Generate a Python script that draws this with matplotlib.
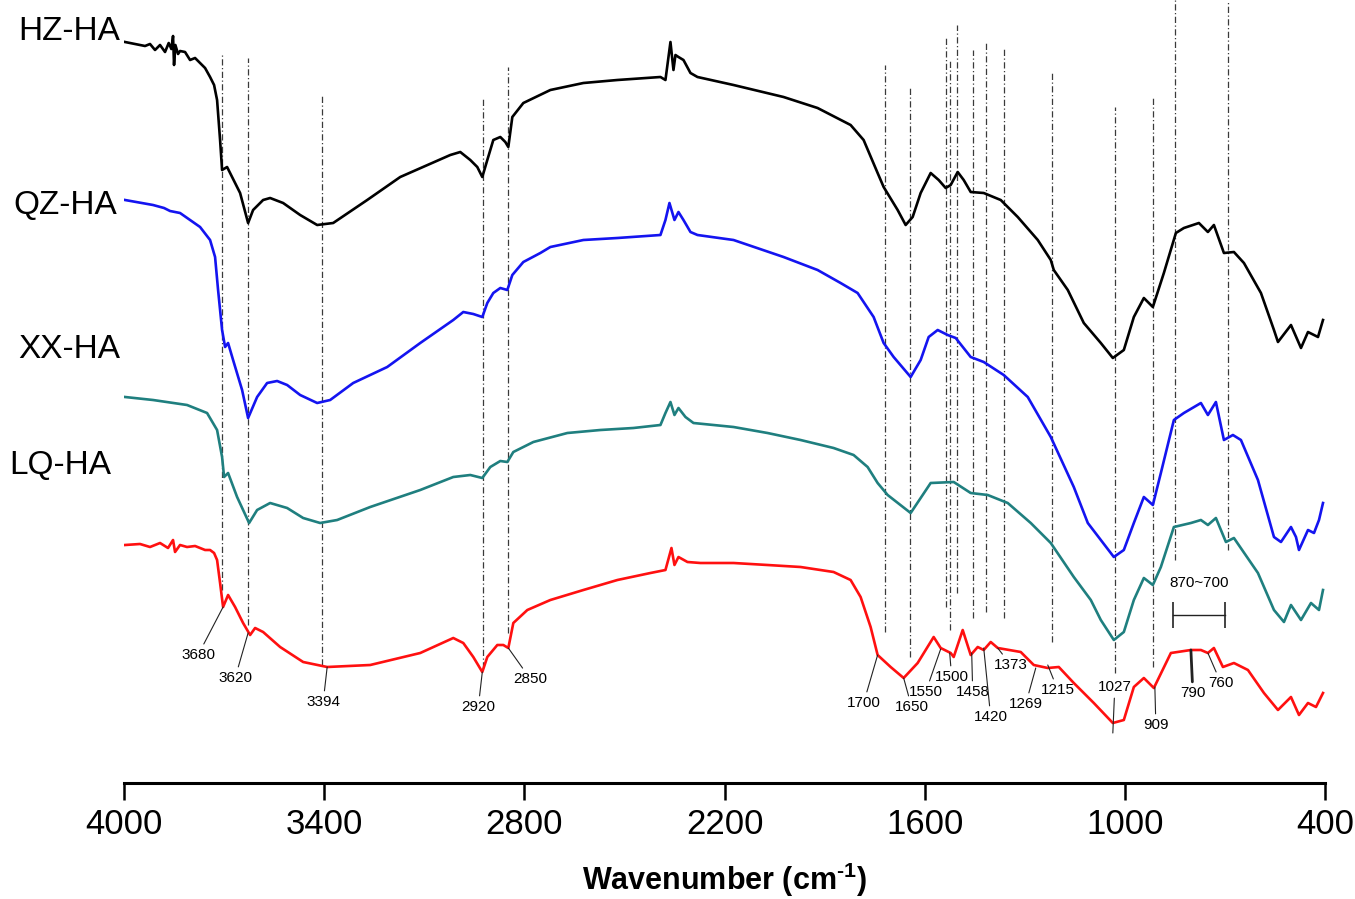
import numpy as np
import matplotlib
matplotlib.use("Agg")
import matplotlib.pyplot as plt

plt.rcParams['font.family'] = ['Liberation Sans', 'DejaVu Sans']
plt.rcParams['mathtext.fontset'] = 'custom'
plt.rcParams['mathtext.rm'] = 'Liberation Sans'
plt.rcParams['mathtext.bf'] = 'Liberation Sans:bold'

# FTIR spectra, (wavenumber, stacked intensity a.u.)
hz_ha = [(3997, 741), (3967, 739), (3937, 737), (3922, 739), (3907, 733), (3892, 738),
         (3877, 731), (3866, 740), (3858, 734), (3853, 747), (3850, 718), (3846, 738),
         (3838, 729), (3832, 732), (3817, 731), (3802, 723), (3787, 725), (3772, 720),
         (3757, 715), (3742, 706),
         (3730, 698), (3721, 683), (3712, 643), (3706, 613), (3691, 616), (3682, 610),
         (3652, 590), (3628, 560), (3613, 573), (3583, 583), (3562, 585), (3523, 580),
         (3472, 568), (3421, 558), (3373, 560), (3271, 583), (3172, 606), (3022, 628),
         (2992, 631), (2962, 623), (2941, 616), (2926, 606), (2911, 623), (2893, 643),
         (2872, 646), (2857, 641), (2848, 636), (2836, 666), (2803, 680), (2722, 693),
         (2623, 700), (2521, 703), (2392, 706), (2377, 703), (2362, 741), (2353, 713),
         (2347, 728), (2338, 726), (2323, 723), (2302, 710), (2281, 706), (2173, 698),
         (2023, 686), (1921, 675), (1822, 658), (1783, 643), (1741, 610), (1723, 596),
         (1681, 573), (1657, 558), (1636, 566), (1612, 590), (1582, 610), (1558, 603),
         (1537, 595), (1522, 598), (1501, 611), (1483, 603), (1462, 591), (1423, 590),
         (1372, 583), (1321, 566), (1261, 543), (1222, 523), (1213, 513), (1171, 493),
         (1123, 460), (1072, 440), (1036, 425), (1003, 433), (973, 466), (943, 485),
         (916, 476), (883, 510), (847, 550), (823, 555), (778, 560), (751, 551),
         (733, 558), (703, 530), (673, 531), (643, 520), (592, 490), (553, 453),
         (541, 441), (502, 458), (472, 435), (451, 451), (421, 446), (406, 463)]

qz_ha = [(3997, 583), (3913, 578), (3880, 575), (3862, 572), (3832, 570), (3772, 556),
         (3742, 543), (3727, 526),
         (3718, 493), (3706, 453), (3697, 436), (3688, 440), (3673, 423), (3646, 393),
         (3628, 365), (3601, 386), (3571, 400), (3541, 402), (3511, 398), (3472, 388),
         (3421, 380), (3382, 383), (3313, 400), (3211, 416), (3112, 440), (3013, 463),
         (2983, 471), (2953, 469), (2926, 466), (2911, 480), (2893, 490), (2872, 495),
         (2851, 493), (2836, 508), (2803, 521), (2752, 530), (2722, 536), (2623, 543),
         (2521, 545), (2392, 548), (2377, 563), (2365, 580), (2350, 563), (2338, 571),
         (2323, 563), (2302, 551), (2281, 548), (2173, 543), (2023, 526), (1921, 513),
         (1852, 500), (1801, 490), (1753, 466), (1723, 440), (1693, 426), (1642, 406),
         (1612, 423), (1588, 446), (1561, 453), (1531, 448), (1507, 445), (1462, 426),
         (1423, 421), (1363, 408), (1291, 386), (1222, 346), (1153, 296), (1111, 260),
         (1072, 243), (1033, 226), (1003, 233), (973, 260), (943, 286), (916, 278),
         (892, 310), (853, 363), (823, 370), (772, 380), (751, 368), (727, 381),
         (703, 343), (676, 348), (652, 343), (601, 303), (553, 246), (532, 241),
         (502, 256), (487, 246), (478, 233), (451, 253), (433, 250), (418, 263), (406, 280)]

xx_ha = [(3997, 386), (3913, 383), (3811, 378), (3751, 370), (3721, 353), (3706, 326),
         (3700, 306), (3688, 310), (3661, 286), (3625, 260), (3601, 273), (3562, 280),
         (3511, 275), (3463, 265), (3412, 260), (3361, 263), (3262, 276), (3112, 293),
         (3013, 306), (2962, 308), (2926, 305), (2902, 316), (2872, 322), (2851, 321),
         (2833, 331), (2773, 341), (2671, 350), (2572, 353), (2473, 355), (2392, 358),
         (2377, 370), (2362, 381), (2350, 368), (2338, 375), (2317, 366), (2293, 360),
         (2173, 356), (2071, 350), (1972, 343), (1873, 335), (1813, 328), (1771, 316),
         (1741, 300), (1711, 288), (1642, 270), (1582, 300), (1513, 301), (1462, 290),
         (1411, 288), (1351, 280), (1282, 260), (1222, 240), (1153, 206), (1102, 183),
         (1072, 163), (1033, 143), (1003, 151), (973, 183), (943, 205), (916, 198),
         (892, 216), (853, 256), (802, 260), (772, 263), (751, 258), (727, 265),
         (697, 241), (673, 245), (601, 210), (553, 173), (523, 161), (502, 178),
         (472, 163), (442, 180), (418, 173), (406, 193)]

lq_ha = [(3997, 238), (3952, 239), (3922, 236), (3892, 240), (3868, 235), (3853, 243),
         (3847, 231), (3832, 238), (3811, 236), (3787, 237), (3757, 233), (3742, 233),
         (3730, 230), (3721, 223), (3712, 200), (3703, 176), (3688, 188), (3667, 176),
         (3643, 160), (3622, 148), (3607, 155), (3583, 151), (3532, 136), (3463, 121),
         (3391, 116), (3262, 118), (3112, 130), (3013, 145), (2983, 140), (2953, 126),
         (2926, 111), (2911, 126), (2881, 138), (2863, 138), (2848, 135), (2833, 160),
         (2791, 173), (2722, 183), (2623, 193), (2521, 203), (2422, 210), (2377, 213),
         (2359, 235), (2350, 218), (2338, 226), (2311, 221), (2272, 220), (2173, 220),
         (2071, 218), (1972, 216), (1873, 211), (1822, 203), (1792, 186), (1762, 156),
         (1741, 128), (1702, 116), (1663, 105), (1621, 120), (1573, 146), (1552, 135),
         (1522, 130), (1513, 126), (1486, 153), (1462, 128), (1441, 136), (1423, 133),
         (1402, 141), (1381, 135), (1312, 131), (1273, 118), (1231, 115), (1198, 116),
         (1153, 100), (1093, 80), (1036, 60), (1003, 63), (973, 96), (943, 105),
         (913, 95), (862, 130), (802, 133), (772, 133), (751, 130), (733, 135),
         (706, 116), (673, 120), (631, 113), (583, 90), (541, 73), (502, 86),
         (478, 68), (451, 80), (427, 76), (406, 90)]

series_names = ['HZ-HA', 'QZ-HA', 'XX-HA', 'LQ-HA']
series_data = [hz_ha, qz_ha, xx_ha, lq_ha]
series_colors = ['#000000', '#1414f0', '#1f7f7f', '#ff1010']

# dash-dot guide lines: wavenumber, top, bottom
guide_wn = [3706, 3628, 3406, 2923, 2848, 1720, 1645, 1537, 1525, 1504, 1456,
            1417, 1363, 1219, 1030, 916, 850, 691]
guide_top = [728, 725, 688, 685, 716, 718, 695, 746, 723, 758, 733, 740, 735,
             710, 676, 685, 783, 783]
guide_bot = [193, 158, 118, 115, 150, 151, 126, 176, 153, 190, 165, 171, 165,
             141, 110, 116, 223, 233]

# peak labels on LQ-HA: text, point on curve, text centre
peak_txt = ['3680', '3620', '3394', '2920', '2850', '1700', '1650', '1550', '1500',
            '1458', '1420', '1373', '1269', '1215', '1027', '909', '790', '760']
peak_xy = [(3703, 176), (3628, 150), (3391, 116), (2926, 111), (2848, 135),
           (1741, 128), (1663, 105), (1552, 134), (1525, 130), (1459, 130),
           (1423, 135), (1381, 135), (1267, 115), (1231, 118), (1036, 50),
           (910, 96), (802, 133), (751, 130)]
peak_txt_xy = [(3778, 128), (3667, 105), (3403, 81), (2938, 76), (2782, 104),
               (1783, 80), (1639, 76), (1597, 91), (1519, 106), (1456, 91),
               (1402, 66), (1342, 118), (1297, 79), (1201, 93), (1030, 96),
               (907, 58), (796, 90), (712, 100)]

fig = plt.figure(figsize=(13.55, 8.99), dpi=100)
ax = fig.add_axes([124 / 1355, 1 - 783 / 899, 1201 / 1355, 783 / 899])

ax.vlines(guide_wn, guide_bot, guide_top, colors='#3a3a3a',
          linestyles=(0, (5, 2, 1, 2)), lw=0.9, zorder=1)

for data, c in zip(series_data, series_colors):
    arr = np.array(data)
    ax.plot(arr[:, 0], arr[:, 1], color=c, lw=1.9, zorder=3,
            solid_joinstyle='round')

for t, xy, xyt in zip(peak_txt, peak_xy, peak_txt_xy):
    lw = 2.0 if t == '790' else 0.8
    ax.annotate(t, xy=xy, xytext=xyt, ha='center', va='center', fontsize=11,
                arrowprops=dict(arrowstyle='-', color='#222222', lw=lw,
                                shrinkA=1, shrinkB=0), zorder=4)

# 870~700 range bracket
ax.plot([856, 700], [168, 168], color='#222222', lw=1.0)
ax.vlines([856, 700], 155, 181, colors='#222222', lw=1.2)
ax.text(778, 200, '870~700', ha='center', va='center', fontsize=11)

# curve names on the left
name_y = [32, 205, 350, 465]
name_right = [120, 117, 120, 111]
for name, py, px in zip(series_names, name_y, name_right):
    fig.text(px / 1355, 1 - py / 899, name, ha='right', va='center', fontsize=24)

ax.set_xlim(4000, 400)
ax.set_ylim(0, 783)
for s in ['left', 'right', 'top']:
    ax.spines[s].set_visible(False)
ax.spines['bottom'].set_linewidth(2.2)
ax.set_yticks([])
ax.set_xticks([4000, 3400, 2800, 2200, 1600, 1000, 400])
ax.tick_params(axis='x', direction='out', length=12, width=1.8, labelsize=25, pad=6)
ax.set_xlabel('Wavenumber (cm$^{\\mathbf{\u2010}\\mathbf{1}}$)', fontsize=22,
              fontweight='bold', labelpad=14)

fig.savefig('out.png', dpi=100)
